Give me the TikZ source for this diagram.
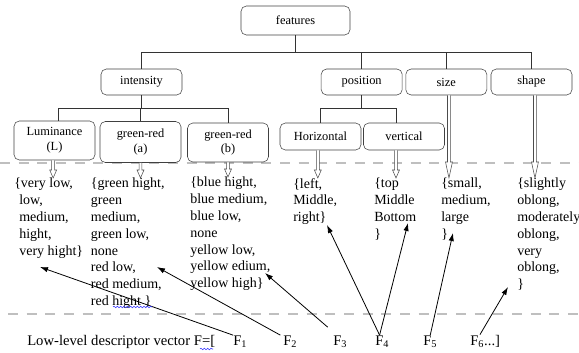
\documentclass[tikz,border=0pt]{standalone}
\usepackage{fontspec}
\setmainfont{Liberation Serif}
\usetikzlibrary{arrows.meta, positioning, calc, decorations.pathmorphing}

\begin{document}
\begin{tikzpicture}[
  x=0.75pt, y=-0.75pt,
  box/.style={rectangle, draw=black!75, rounded corners=4pt, minimum width=60.75pt, minimum height=19.5pt, align=center, inner sep=1pt, font=\fontsize{9.3}{11.2}\selectfont},
  vals/.style={anchor=north west, inner sep=0pt, align=left, font=\fontsize{10.5}{12.6}\selectfont},
  flab/.style={anchor=base west, inner sep=0pt, font=\fontsize{11}{13}\selectfont},
  link/.style={draw=black!80, line width=0.6pt},
  ptr/.style={line width=0.6pt, -{Latex[length=6pt, width=4pt]}},
  sep/.style={draw=gray!50, line width=2.2pt, dash pattern=on 7.5pt off 6.5pt},
  hollow/.style={draw=black!70, fill=white, line width=0.4pt,
    to path={let \p1=(\tikztostart), \p2=(\tikztotarget) in
      (\x1-1.1pt,\y1) -- (\x1-1.1pt,\y2+#1) -- (\x1-2.6pt,\y2+#1) -- (\x1,\y2)
      -- (\x1+2.6pt,\y2+#1) -- (\x1+1.1pt,\y2+#1) -- (\x1+1.1pt,\y1)}},
  hollow/.default=6pt,
  spell/.style={draw=blue!80, line width=0.4pt, decorate, decoration={snake, amplitude=0.6pt, segment length=2.5pt}}
]
\useasboundingbox (0,0) rectangle (579,353);

% Separators
\draw[sep] (0,163) -- (579,163);
\draw[sep] (8,314) -- (579,314);

% Feature tree
\node[box, minimum width=81.75pt, minimum height=21.75pt] (feat) at (295.5,20.5) {features};
\node[box] (inten) at (141.5,82) {intensity};
\node[box] (posn) at (361.7,82) {position};
\node[box] (sz) at (446.3,82) {size};
\node[box] (shp) at (531.5,82) {shape};

\node[box, minimum height=29.25pt] (lum) at (54.5,140.5) {Luminance\\(L)};
\node[box, minimum height=30.75pt] (gra) at (140.5,142) {green-red\\(a)};
\node[box, minimum height=29.25pt] (grb) at (228,142.5) {green-red\\(b)};
\node[box, minimum height=20.25pt] (horiz) at (320.5,136.5) {Horizontal};
\node[box, minimum height=20.25pt] (vert) at (404,136.5) {vertical};

\coordinate (j1) at (297,52);
\coordinate (j2) at (140,108);
\coordinate (j3) at (367,108);

\draw[link] (feat.south) |- (inten.north |- j1) -- (inten.north);
\draw[link] (feat.south) |- (posn.north |- j1) -- (posn.north);
\draw[link] (feat.south) |- (sz.north |- j1) -- (sz.north);
\draw[link] (feat.south) |- (shp.north |- j1) -- (shp.north);

\draw[link] (inten.south) |- ([xshift=3pt]lum.north |- j2) -- ([xshift=3pt]lum.north);
\draw[link] (inten.south) |- (gra.north |- j2) -- (gra.north);
\draw[link] (inten.south) |- (grb.north |- j2) -- (grb.north);
\draw[link] (posn.south) |- (horiz.north |- j3) -- (horiz.north);
\draw[link] (posn.south) |- ([xshift=-6pt]vert.north |- j3) -- ([xshift=-6pt]vert.north);

% Value sets
\node[vals] (lumtxt) at (14,178) {\{very low,\\\hspace*{3.8pt}low,\\\hspace*{3.8pt}medium,\\\hspace*{3.8pt}hight,\\\hspace*{3.8pt}very hight\}};
\node[vals] (gratxt) at (90.7,178) {\{green hight,\\green\\medium,\\green low,\\none\\red low,\\red medium,\\red hight \}};
\node[vals] (grbtxt) at (190,177) {\{blue hight,\\blue medium,\\blue low,\\none\\yellow low,\\yellow edium,\\yellow high\}};
\node[vals] (hortxt) at (293,178) {\{left,\\Middle,\\right\}};
\node[vals] (vertxt) at (374,178) {\{top\\Middle\\Bottom\\\}};
\node[vals] (sztxt) at (441,178) {\{small,\\medium,\\large\\\}};
\node[vals] (shptxt) at (517,178) {\{slightly\\oblong,\\moderately\\oblong,\\very\\oblong,\\\}};

% Hollow arrows
\draw[hollow] ([xshift=-1pt]lum.south) to (lumtxt.north);
\draw[hollow] (gra.south) to (gratxt.north);
\draw[hollow] (grb.south) to (grbtxt.north);
\draw[hollow] ([xshift=-2pt]horiz.south) to (hortxt.north);
\draw[hollow] ([xshift=-6pt]vert.south) to (vertxt.north);
\draw[hollow=12pt] ([xshift=2pt]sz.south) to (sztxt.north);
\draw[hollow=12pt] ([xshift=2.6pt]shp.south) to (shptxt.north);

% Descriptor vector
\node[flab] (lowtxt) at (27,345) {Low-level descriptor vector F=[};
\node[flab] (f1) at (233,345) {F\textsubscript{1}};
\node[flab] (f2) at (283,345) {F\textsubscript{2}};
\node[flab] (f3) at (333,345) {F\textsubscript{3}};
\node[flab] (f4) at (375,345) {F\textsubscript{4}};
\node[flab] (f5) at (423,345) {F\textsubscript{5}};
\node[flab] (f6) at (470,345) {F\textsubscript{6}...]};

\coordinate (t1) at (40,267);
\coordinate (t2) at (157,267);
\coordinate (t3) at (265,273);
\coordinate (t4a) at (327,225);
\coordinate (t4b) at (408,223);
\coordinate (t5) at (453,233);
\coordinate (t6) at (508,287);

\draw[ptr] (f1.north west) -- (t1);
\draw[ptr] ([xshift=-2pt]f2.north west) -- (t2);
\draw[ptr] ([shift={(-4pt,6pt)}]f3.north west) -- (t3);
\draw[ptr] ([xshift=-2pt]f4.north) -- (t4a);
\draw[ptr] ([xshift=-2pt]f4.north) -- (t4b);
\draw[ptr] (f5.north) -- (t5);
\draw[ptr] ([xshift=7.5pt]f6.north west) -- (t6);

% Spelling marks
\draw[spell] (113,307) -- (152,307);
\draw[spell] (200,349) -- (213,349);

\end{tikzpicture}
\end{document}
